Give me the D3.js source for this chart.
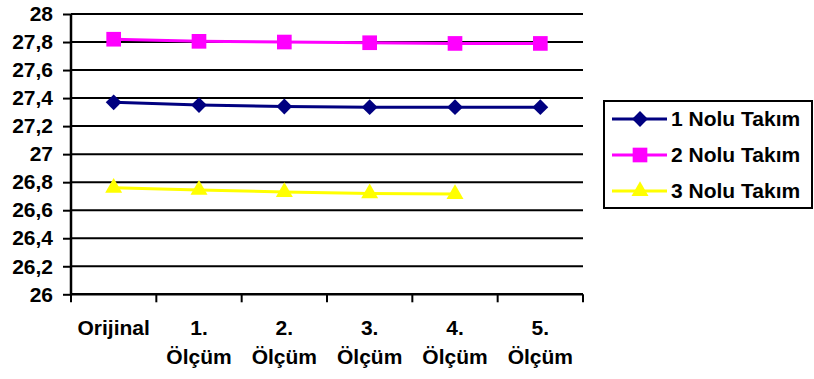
<!DOCTYPE html>
<html>
<head>
<meta charset="utf-8">
<script src="https://cdn.jsdelivr.net/npm/d3@7"></script>
<style>
  html, body { margin: 0; padding: 0; background: #fff; }
  svg { display: block; font-family: "Liberation Sans", Arial, sans-serif; font-weight: bold; }
</style>
</head>
<body>
<svg id="chart" width="814" height="379"></svg>
<script>
// Measurement stages along the x axis (two-line labels)
const categories = ["Orijinal", "1.\nÖlçüm", "2.\nÖlçüm", "3.\nÖlçüm", "4.\nÖlçüm", "5.\nÖlçüm"];

// Series values per stage (null = no measurement)
const takim1 = [27.37, 27.35, 27.34, 27.335, 27.335, 27.335];
const takim2 = [27.82, 27.805, 27.8, 27.795, 27.79, 27.79];
const takim3 = [26.76, 26.745, 26.73, 26.72, 26.715, null];

const seriesNames = ["1 Nolu Takım", "2 Nolu Takım", "3 Nolu Takım"];
const yTicks = [26, 26.2, 26.4, 26.6, 26.8, 27, 27.2, 27.4, 27.6, 27.8, 28];

const FONT = 21;

const series = [
  { name: seriesNames[0], values: takim1, color: "#000080", symbol: d3.symbolSquare, size: 125, rotate: 45 },
  { name: seriesNames[1], values: takim2, color: "#FF00FF", symbol: d3.symbolSquare, size: 215, rotate: 0 },
  { name: seriesNames[2], values: takim3, color: "#FFFF00", symbol: d3.symbolTriangle, size: 125, rotate: 0 }
];

const svg = d3.select("#chart");
const plot = { left: 71, right: 583, top: 14, bottom: 294.3 };

const x = d3.scaleBand().domain(categories).range([plot.left, plot.right]);
const y = d3.scaleLinear().domain([26, 28]).range([plot.bottom, plot.top]);

// Horizontal gridlines
svg.append("g")
  .selectAll("line")
  .data(yTicks.filter(t => t > 26))
  .join("line")
  .attr("x1", plot.left).attr("x2", plot.right)
  .attr("y1", d => y(d)).attr("y2", d => y(d))
  .attr("stroke", "#000").attr("stroke-width", 2);

// Y axis
const yAxis = svg.append("g")
  .attr("transform", `translate(${plot.left},0)`)
  .call(d3.axisLeft(y).tickValues(yTicks).tickSize(8).tickPadding(10)
    .tickFormat(d => String(+d.toFixed(1)).replace(".", ",")));
yAxis.attr("font-size", FONT).attr("font-family", null);
yAxis.select(".domain").attr("stroke", "#000").attr("stroke-width", 2.5)
  .attr("d", `M0,${plot.bottom + 1}V${plot.top}`);
yAxis.selectAll(".tick line").attr("stroke", "#000").attr("stroke-width", 2);
yAxis.selectAll(".tick text")
  .attr("font-size", FONT).attr("font-weight", "bold").attr("fill", "#000");

// X axis (ticks at category boundaries)
const xg = svg.append("g").attr("transform", `translate(0,${plot.bottom})`);
xg.append("line")
  .attr("x1", plot.left).attr("x2", plot.right)
  .attr("stroke", "#000").attr("stroke-width", 2.5);
xg.selectAll("line.tk")
  .data(d3.range(categories.length + 1))
  .join("line").attr("class", "tk")
  .attr("x1", i => plot.left + i * x.bandwidth())
  .attr("x2", i => plot.left + i * x.bandwidth())
  .attr("y1", 0).attr("y2", 8)
  .attr("stroke", "#000").attr("stroke-width", 2);
const xl = xg.selectAll("text")
  .data(categories)
  .join("text")
  .attr("text-anchor", "middle")
  .attr("font-size", FONT)
  .attr("fill", "#000")
  .attr("transform", d => `translate(${x(d) + x.bandwidth() / 2},0)`);
xl.each(function(d) {
  const lines = d.split("\n");
  d3.select(this).selectAll("tspan")
    .data(lines)
    .join("tspan")
    .attr("x", 0)
    .attr("y", (l, i) => 41 + i * 29)
    .text(l => l);
});

// Series lines and markers
const cx = c => x(c) + x.bandwidth() / 2;
series.forEach(s => {
  const pts = categories.map((c, i) => ({ c, v: s.values[i] })).filter(p => p.v != null);
  svg.append("path")
    .datum(pts)
    .attr("fill", "none")
    .attr("stroke", s.color)
    .attr("stroke-width", 3)
    .attr("d", d3.line().x(p => cx(p.c)).y(p => y(p.v)));
  svg.append("g").selectAll("path")
    .data(pts)
    .join("path")
    .attr("transform", p => `translate(${cx(p.c)},${y(p.v)}) rotate(${s.rotate})`)
    .attr("d", d3.symbol(s.symbol, s.size))
    .attr("fill", s.color);
});

// Legend
const legend = svg.append("g");
legend.append("rect")
  .attr("x", 604).attr("y", 101).attr("width", 208).attr("height", 107)
  .attr("fill", "#fff").attr("stroke", "#000").attr("stroke-width", 2);
series.forEach((s, i) => {
  const ly = 119 + i * 36;
  legend.append("line")
    .attr("x1", 612).attr("x2", 667).attr("y1", ly).attr("y2", ly)
    .attr("stroke", s.color).attr("stroke-width", 3);
  legend.append("path")
    .attr("transform", `translate(640,${ly}) rotate(${s.rotate})`)
    .attr("d", d3.symbol(s.symbol, s.size))
    .attr("fill", s.color);
  legend.append("text")
    .attr("x", 671).attr("y", ly + 7)
    .attr("font-size", FONT).attr("fill", "#000")
    .text(s.name);
});
</script>
</body>
</html>
